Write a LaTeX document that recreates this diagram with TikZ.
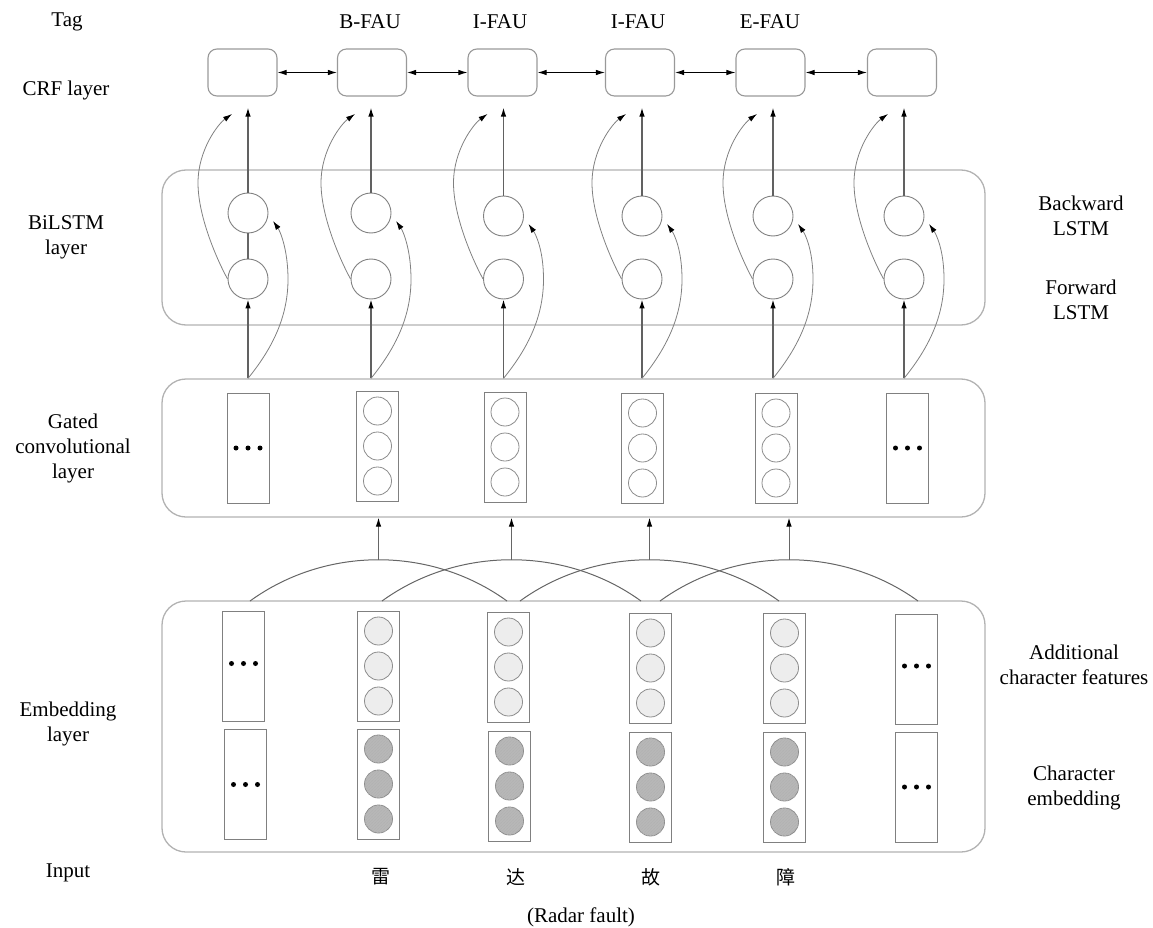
\documentclass[tikz,border=0pt]{standalone}
\usepackage{fontspec}
\setmainfont{Liberation Serif}
\newfontfamily\cjk{Noto Sans CJK SC}
\usetikzlibrary{arrows.meta,calc,patterns}
\begin{document}
\begin{tikzpicture}[x=1pt,y=-1pt,
  lbl/.style={font=\fontsize{21}{25}\selectfont, align=center, inner sep=0pt},
  cjklbl/.style={font=\cjk\fontsize{19}{22}\selectfont, inner sep=0pt},
  bigbox/.style={draw=black!30, line width=1.3pt, rounded corners=24pt, inner sep=0pt},
  crf/.style={draw=black!40, line width=1.1pt, rounded corners=9pt, minimum width=69pt, minimum height=47pt, inner sep=0pt},
  cell/.style={circle, draw=black!50, line width=0.9pt, minimum size=40pt, inner sep=0pt},
  vec/.style={draw=black!50, line width=1pt, minimum width=42pt, minimum height=110pt, inner sep=0pt},
  gcirc/.style={circle, draw=black!45, line width=0.8pt, minimum size=28pt, inner sep=0pt},
  ucirc/.style={gcirc, fill=black!7},
  lcirc/.style={gcirc, fill=black!28, postaction={pattern=north east lines, pattern color=black!30}},
  bdot/.style={circle, fill=black, minimum size=5pt, inner sep=0pt},
  tip/.style={-{Latex[length=9pt,width=5.5pt,color=black]}},
  varrow/.style={tip, draw=black!62, line width=1.3pt},
  carrow/.style={tip, draw=black!50, line width=0.8pt},
  link/.style={draw=black!60, line width=2pt},
  darrow/.style={{Latex[length=9pt,width=5.5pt]}-{Latex[length=9pt,width=5.5pt]}, draw=black, line width=0.9pt},
  arcline/.style={draw=black!60, line width=1pt},
]
\useasboundingbox (0,0) rectangle (1153,928);

% ---------- big layer boxes ----------
\node[bigbox, minimum width=823pt, minimum height=155pt] (lbox) at (573.5,247.5) {};
\node[bigbox, minimum width=823pt, minimum height=138pt] (gbox) at (573.5,448) {};
\node[bigbox, minimum width=823pt, minimum height=251pt] (ebox) at (573.5,726.5) {};

% ---------- left labels ----------
\node[lbl] (ltag) at (67,22) {Tag};
\node[lbl] (lcrf) at (66,90) {CRF layer};
\node[lbl] (lbil) at (66,237) {BiLSTM\\layer};
\node[lbl] (lgat) at (73,448) {Gated\\convolutional\\layer};
\node[lbl] (lemb) at (68,723.5) {Embedding\\layer};
\node[lbl] (linp) at (68,873) {Input};

% ---------- right labels ----------
\node[lbl] (rbw) at (1081,215.5) {Backward\\LSTM};
\node[lbl] (rfw) at (1081,300) {Forward\\LSTM};
\node[lbl] (radd) at (1074,664.5) {Additional\\character features};
\node[lbl] (rchr) at (1074,788) {Character\\embedding};

% ---------- tags ----------
\node[lbl] (t2) at (370,22) {B-FAU};
\node[lbl] (t3) at (500,22) {I-FAU};
\node[lbl] (t4) at (638,22) {I-FAU};
\node[lbl] (t5) at (770,22) {E-FAU};

% ---------- CRF boxes ----------
\foreach \i/\x in {1/242.5,2/372,3/502.5,4/640,5/770.5,6/902}
  \node[crf] (crf\i) at (\x,72.5) {};
\foreach \i/\j in {1/2,2/3,3/4,4/5,5/6}
  \draw[darrow] (crf\i) -- (crf\j);

% ---------- BiLSTM cells ----------
\foreach \i/\x/\yb in {1/248/213,2/371/213,3/503.5/216,4/642/216,5/773/216,6/904/216}{
  \node[cell] (bw\i) at (\x,\yb) {};
  \node[cell] (fw\i) at (\x,279) {};
}
\draw[link] (bw1) -- (fw1);

% ---------- gated convolution vectors ----------
\foreach \i/\x/\y in {1/248/448,2/377.5/446,3/505/447,4/642.5/448,5/776/448,6/907.5/448}
  \node[vec] (gv\i) at (\x,\y) {};
\foreach \i in {2,3,4,5}
  \foreach \k/\dy in {1/-35,2/0,3/35}
    \node[gcirc] (gc\i\k) at ($(gv\i)+(0,\dy)$) {};
\foreach \i in {1,6}
  \foreach \k/\dx in {1/-12,2/0,3/12}
    \node[bdot] (gd\i\k) at ($(gv\i)+(\dx,0)$) {};

% ---------- embedding vectors ----------
\foreach \i/\xu/\xl/\yu/\yl in {1/243.5/245.5/666.5/784.5,2/378.5/378.5/666/784,3/508.5/509.5/667/786,4/650.5/650.5/668/787,5/784.5/784.5/668/787,6/916.5/916.5/669/787}{
  \node[vec] (eu\i) at (\xu,\yu) {};
  \node[vec] (el\i) at (\xl,\yl) {};
}
\foreach \i in {2,3,4,5}
  \foreach \k/\dy in {1/-35,2/0,3/35}{
    \node[ucirc] (euc\i\k) at ($(eu\i)+(0,\dy)$) {};
    \node[lcirc] (elc\i\k) at ($(el\i)+(0,\dy)$) {};
  }
\foreach \i in {1,6}
  \foreach \k/\dx in {1/-12,2/0,3/12}{
    \node[bdot] (eud\i\k) at ($(eu\i)+(\dx,-3)$) {};
    \node[bdot] (eld\i\k) at ($(el\i)+(\dx,0)$) {};
  }

% ---------- connectors BiLSTM / CRF ----------
\foreach \i in {1,...,6}{
  \draw[varrow] (bw\i.north) -- ($(bw\i.north |- crf\i.south)+(0,11)$);
  \coordinate (g\i) at (fw\i |- gbox.north);
  \draw[varrow] (g\i) -- (fw\i.south);
  \draw[carrow] (fw\i.west) .. controls +(-12,-22) and +(0,32) .. ($(fw\i)+(-50,-96)$)
                .. controls +(0,-33) and +(-14,10) .. ($(fw\i)+(-16,-165)$);
  \draw[carrow] (g\i) .. controls +(22,-27) and +(0,40) .. ($(g\i)+(40,-99)$)
                .. controls +(0,-30) and +(7,10) .. ($(bw\i)+(25,8)$);
}

% ---------- convolution windows ----------
\foreach \i/\xs/\xe in {1/250/507,2/382/641,3/520/779,4/660/918}{
  \coordinate (as\i) at (\xs,601);
  \coordinate (ae\i) at (\xe,601);
  \draw[arcline] (as\i) .. controls +(76,-55) and +(-76,-55) .. (ae\i)
      coordinate[pos=0.5] (am\i);
  \draw[varrow, line width=1pt, draw=black!60] (am\i) -- (am\i |- gbox.south);
}

% ---------- input ----------
\node[cjklbl] (c1) at (381,877) {雷};
\node[cjklbl] (c2) at (516,877) {达};
\node[cjklbl] (c3) at (651,877) {故};
\node[cjklbl] (c4) at (786,877) {障};
\node[lbl] (eng) at (581,917) {(Radar fault)};
\end{tikzpicture}
\end{document}
